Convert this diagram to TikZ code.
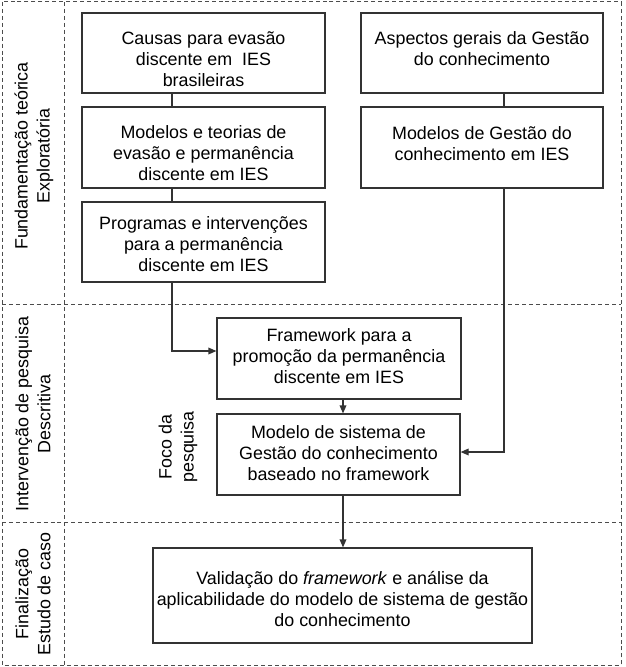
\documentclass[tikz,border=0pt]{standalone}
\usepackage{fontspec}
\setmainfont{Liberation Sans}
\usetikzlibrary{arrows.meta,calc}
\begin{document}
\begin{tikzpicture}[x=0.75pt,y=-0.75pt,
  box/.style={draw=black!80,line width=0.9pt,inner sep=0pt},
  txt/.style={align=center,inner sep=0pt,font=\fontsize{13.4}{15.8}\selectfont},
  lane/.style={draw=black!70,line width=0.75pt,dash pattern=on 3pt off 2.2pt},
  lbl/.style={rotate=90,align=center,inner sep=0pt,font=\fontsize{13.4}{16.5}\selectfont},
  link/.style={draw=black!80,line width=0.9pt},
  arr/.style={link,-{Triangle[length=6pt,width=5pt]}}]
\useasboundingbox (0,0) rectangle (625,667);
% lanes
\draw[lane] (2,2) rectangle (621,665);
\draw[lane] (64,2) -- (64,665);
\draw[lane] (2,304) -- (621,304);
\draw[lane] (2,522) -- (621,522);
% lane labels
\node[lbl] (l1) at (34,156) {Fundamentação teórica\\Exploratória};
\node[lbl] (l2) at (33,414) {Intervenção de pesquisa\\Descritiva};
\node[lbl] (l3) at (33,594) {Finalização\\Estudo de caso};
\node[lbl] (foco) at (178,447) {Foco da\\pesquisa};
% boxes
\node[box,minimum width=182.25pt,minimum height=60pt] (c1) at (203.5,53) {};
\node[box,minimum width=182.25pt,minimum height=60.75pt] (c2) at (203.5,147.5) {};
\node[box,minimum width=182.25pt,minimum height=60pt] (c3) at (203.5,242) {};
\node[box,minimum width=181.5pt,minimum height=60pt] (a1) at (482,53) {};
\node[box,minimum width=181.5pt,minimum height=60.75pt] (a2) at (482,147.5) {};
\node[box,minimum width=183pt,minimum height=60.75pt] (fw) at (339,358.5) {};
\node[box,minimum width=182.25pt,minimum height=60.75pt] (mod) at (338.5,454.5) {};
\node[box,minimum width=284.25pt,minimum height=71.25pt] (fin) at (342.5,595.5) {};
% box texts
\node[txt] (c1t) at ($(c1)+(0,6)$) {Causas para evasão\\discente em\ \ IES\\brasileiras};
\node[txt] (c2t) at ($(c2)+(0,6)$) {Modelos e teorias de\\evasão e permanência\\discente em IES};
\node[txt] (c3t) at ($(c3)+(0,2)$) {Programas e intervenções\\para a permanência\\discente em IES};
\node[txt] (a1t) at ($(a1)+(0,-4)$) {Aspectos gerais da Gestão\\do conhecimento};
\node[txt] (a2t) at ($(a2)+(0,-4)$) {Modelos de Gestão do\\conhecimento em IES};
\node[txt] (fwt) at ($(fw)+(0,-2)$) {Framework para a\\promoção da permanência\\discente em IES};
\node[txt] (modt) at ($(mod)+(0,-1.5)$) {Modelo de sistema de\\Gestão do conhecimento\\baseado no framework};
\node[txt] (fint) at ($(fin)+(0,3.5)$) {Validação do \textit{framework} e análise da\\aplicabilidade do modelo de sistema de gestão\\do conhecimento};
% connector helpers
\coordinate (xa) at (172,0);
\coordinate (xb) at (504,0);
\coordinate (xc) at (343,0);
\coordinate (ya) at (0,351);
\coordinate (yb) at (0,452);
% connectors
\draw[link] (c1.south -| xa) -- (c2.north -| xa);
\draw[link] (c2.south -| xa) -- (c3.north -| xa);
\draw[arr] (c3.south -| xa) |- (fw.west |- ya);
\draw[link] (a1.south -| xb) -- (a2.north -| xb);
\draw[arr] (a2.south -| xb) |- (mod.east |- yb);
\draw[arr] (fw.south -| xc) -- (mod.north -| xc);
\draw[arr] (mod.south -| xc) -- (fin.north -| xc);
\end{tikzpicture}
\end{document}
